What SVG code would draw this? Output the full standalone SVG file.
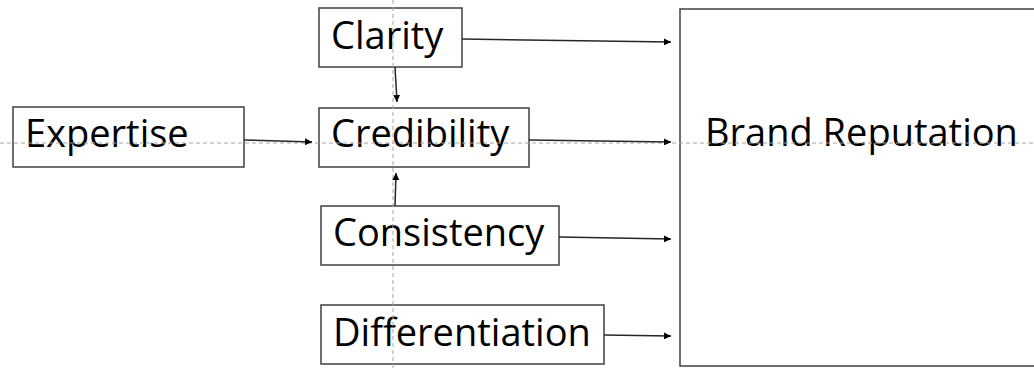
<svg xmlns="http://www.w3.org/2000/svg" width="1034" height="368" viewBox="0 0 1034 368">
<defs>
<style>
.box{fill:#fff;stroke:#404040;stroke-width:1.5}
.lbl{font-family:"Open Sans","Noto Sans",sans-serif;font-size:38px;fill:#000}
.guide{stroke:#a6a6a6;stroke-width:1;stroke-dasharray:4 3;fill:none}
.conn{stroke:#262626;stroke-width:1.5;fill:none;marker-end:url(#ah)}
</style>
<marker id="ah" viewBox="0 0 10 10" refX="10" refY="5" markerWidth="7" markerHeight="7" markerUnits="userSpaceOnUse" orient="auto">
<path d="M0,0 L10,5 L0,10 z" fill="#000"/>
</marker>
</defs>
<rect width="1034" height="368" fill="#fff"/>
<g id="brand-reputation"><rect class="box" x="680" y="9" width="400" height="357"/><text class="lbl" x="705" y="146">Brand Reputation</text></g>
<g id="expertise"><rect class="box" x="13" y="107" width="231" height="60"/><text class="lbl" x="25" y="147">Expertise</text></g>
<g id="clarity"><rect class="box" x="319" y="8" width="143" height="59"/><text class="lbl" x="331" y="49">Clarity</text></g>
<g id="credibility"><rect class="box" x="319" y="108" width="210" height="59"/><text class="lbl" x="331" y="147">Credibility</text></g>
<g id="consistency"><rect class="box" x="321" y="206" width="238" height="59"/><text class="lbl" x="333" y="246">Consistency</text></g>
<g id="differentiation"><rect class="box" x="321" y="305" width="283" height="59"/><text class="lbl" x="333" y="346">Differentiation</text></g>
<g id="guides">
<line class="guide" x1="0" y1="143" x2="1034" y2="143"/>
<line class="guide" x1="393" y1="0" x2="393" y2="368"/>
</g>
<g id="connectors">
<line class="conn" x1="244" y1="140" x2="312" y2="142"/>
<line class="conn" x1="462" y1="39" x2="671" y2="42"/>
<line class="conn" x1="529" y1="140" x2="671" y2="142"/>
<line class="conn" x1="395" y1="67" x2="397" y2="102"/>
<line class="conn" x1="395" y1="206" x2="396" y2="173"/>
<line class="conn" x1="559" y1="237" x2="671" y2="239"/>
<line class="conn" x1="604" y1="335" x2="671" y2="336"/>
</g>
</svg>
